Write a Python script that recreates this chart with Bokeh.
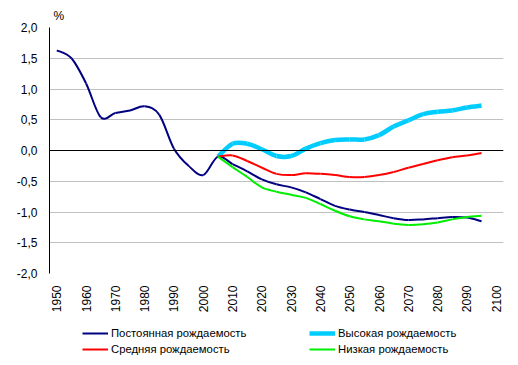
import numpy as np
from bokeh.plotting import figure
from bokeh.layouts import column
from bokeh.models import (Legend, LegendItem, Span, CustomJSTickFormatter,
                          FixedTicker, Range1d, ColumnDataSource)
from bokeh.embed import file_html
from bokeh.resources import INLINE

# ---- data ----
years = [1950, 1955, 1960, 1965, 1970, 1975, 1980, 1985, 1990, 1995, 2000,
         2005, 2010, 2015, 2020, 2025, 2030, 2035, 2040, 2045, 2050, 2055,
         2060, 2065, 2070, 2075, 2080, 2085, 2090, 2095]
constant = [1.63, 1.50, 1.09, 0.54, 0.61, 0.65, 0.72, 0.58, 0.03, -0.25,
            -0.40, -0.10, -0.22, -0.34, -0.47, -0.55, -0.60, -0.68, -0.79,
            -0.90, -0.96, -1.00, -1.05, -1.10, -1.13, -1.12, -1.10, -1.08,
            -1.09, -1.15]

f_years = [2005, 2010, 2015, 2020, 2025, 2030, 2035, 2040, 2045, 2050, 2055,
           2060, 2065, 2070, 2075, 2080, 2085, 2090, 2095]
high = [-0.10, 0.11, 0.11, 0.02, -0.09, -0.09, 0.03, 0.12, 0.17, 0.18, 0.18,
        0.25, 0.39, 0.49, 0.59, 0.63, 0.65, 0.70, 0.73]
medium = [-0.10, -0.08, -0.17, -0.28, -0.38, -0.40, -0.37, -0.38, -0.40,
          -0.43, -0.43, -0.40, -0.35, -0.28, -0.22, -0.16, -0.11, -0.08, -0.04]
low = [-0.10, -0.27, -0.43, -0.60, -0.67, -0.72, -0.77, -0.87, -0.98, -1.07,
       -1.12, -1.15, -1.19, -1.21, -1.20, -1.17, -1.12, -1.08, -1.06]

x_ticks = [1950, 1960, 1970, 1980, 1990, 2000, 2010, 2020, 2030, 2040, 2050,
           2060, 2070, 2080, 2090, 2100]
y_ticks = [-2.0, -1.5, -1.0, -0.5, 0.0, 0.5, 1.0, 1.5, 2.0]

names = ["Постоянная рождаемость", "Высокая рождаемость",
         "Средняя рождаемость", "Низкая рождаемость"]
FONT = "Liberation Sans"


def smooth(xs, ys):
    """Bezier segments through the data points (Excel-style smoothed line)."""
    xs = np.asarray(xs, float)
    ys = np.asarray(ys, float)
    n = len(xs)
    px = np.concatenate([[xs[0]], xs, [xs[-1]]])
    py = np.concatenate([[ys[0]], ys, [ys[-1]]])
    d = dict(x0=[], y0=[], x1=[], y1=[], cx0=[], cy0=[], cx1=[], cy1=[])
    for i in range(n - 1):
        p0x, p0y = px[i], py[i]
        p1x, p1y = px[i + 1], py[i + 1]
        p2x, p2y = px[i + 2], py[i + 2]
        p3x, p3y = px[i + 3], py[i + 3]
        d["x0"].append(p1x); d["y0"].append(p1y)
        d["x1"].append(p2x); d["y1"].append(p2y)
        d["cx0"].append(p1x + (p2x - p0x) / 6); d["cy0"].append(p1y + (p2y - p0y) / 6)
        d["cx1"].append(p2x - (p3x - p1x) / 6); d["cy1"].append(p2y - (p3y - p1y) / 6)
    return ColumnDataSource(d)


p = figure(width=510, height=315, output_backend="svg",
           toolbar_location=None, x_range=Range1d(1947.5, 2102.5),
           y_range=Range1d(-2.0, 2.0), min_border_left=49, min_border_right=7,
           min_border_top=27, min_border_bottom=40, title="%")
p.title.text_font = FONT
p.title.text_font_size = "12px"
p.title.text_font_style = "normal"
p.title.text_color = "black"
p.title.align = "left"
p.title.offset = 4
p.outline_line_color = None
p.background_fill_color = "white"
p.border_fill_color = "white"

p.xgrid.grid_line_color = None
p.ygrid.grid_line_color = "#C0C0C0"
p.ygrid.grid_line_width = 1
p.ygrid.ticker = FixedTicker(ticks=y_ticks)

p.yaxis.ticker = FixedTicker(ticks=y_ticks)
p.yaxis.formatter = CustomJSTickFormatter(
    code="return tick.toFixed(1).replace('.', ',');")
p.yaxis.axis_line_color = "black"
p.yaxis.major_tick_line_color = None
p.yaxis.minor_tick_line_color = None
p.yaxis.major_tick_out = 0
p.yaxis.major_label_standoff = 12
p.yaxis.major_label_text_font = FONT
p.yaxis.major_label_text_font_size = "12px"
p.yaxis.major_label_text_color = "black"

p.xaxis.ticker = FixedTicker(ticks=x_ticks)
p.xaxis.axis_line_color = None
p.xaxis.major_tick_line_color = None
p.xaxis.minor_tick_line_color = None
p.xaxis.major_tick_out = 0
p.xaxis.major_label_orientation = np.pi / 2
p.xaxis.major_label_standoff = 12
p.xaxis.major_label_text_font = FONT
p.xaxis.major_label_text_font_size = "12px"
p.xaxis.major_label_text_color = "black"

p.add_layout(Span(location=0, dimension="width", line_color="black",
                  line_width=1))

series = [
    (years, constant, "#000080", 2),
    (f_years, high, "#00CCFF", 4.5),
    (f_years, medium, "#FF0000", 2),
    (f_years, low, "#00EE00", 2),
]
for xs, ys, color, w in series:
    src = smooth(xs, ys)
    p.bezier(x0="x0", y0="y0", x1="x1", y1="y1", cx0="cx0", cy0="cy0",
             cx1="cx1", cy1="cy1", source=src, line_color=color,
             line_width=w)

# ---- legend strip (separate small figure below the chart) ----
lg_fig = figure(width=510, height=50, output_backend="svg",
                toolbar_location=None, x_range=Range1d(0, 1),
                y_range=Range1d(0, 1), min_border_left=0, min_border_right=0,
                min_border_top=0, min_border_bottom=0,
                x_axis_location=None, y_axis_location=None)
lg_fig.grid.visible = False
lg_fig.outline_line_color = None
lg_fig.background_fill_color = "white"
lg_fig.border_fill_color = "white"

items = []
for (xs, ys, color, w), name in zip(series, names):
    # legend key renderers; the data lies outside this strip's ranges
    r = lg_fig.line(x=xs, y=ys, line_color=color, line_width=w)
    items.append(LegendItem(label=name, renderers=[r]))

legend = Legend(items=items, ncols=2, orientation="horizontal",
                location=(33, 9), border_line_color=None,
                background_fill_alpha=0, label_text_font=FONT,
                label_text_font_size="11.3px", label_text_color="black",
                glyph_width=26, glyph_height=14,
                label_standoff=3, spacing=2, padding=0, margin=0,
                label_height=14, label_width=196)
lg_fig.add_layout(legend, "center")

layout = column(p, lg_fig, spacing=0)
open("out.html", "w").write(file_html(layout, INLINE))
